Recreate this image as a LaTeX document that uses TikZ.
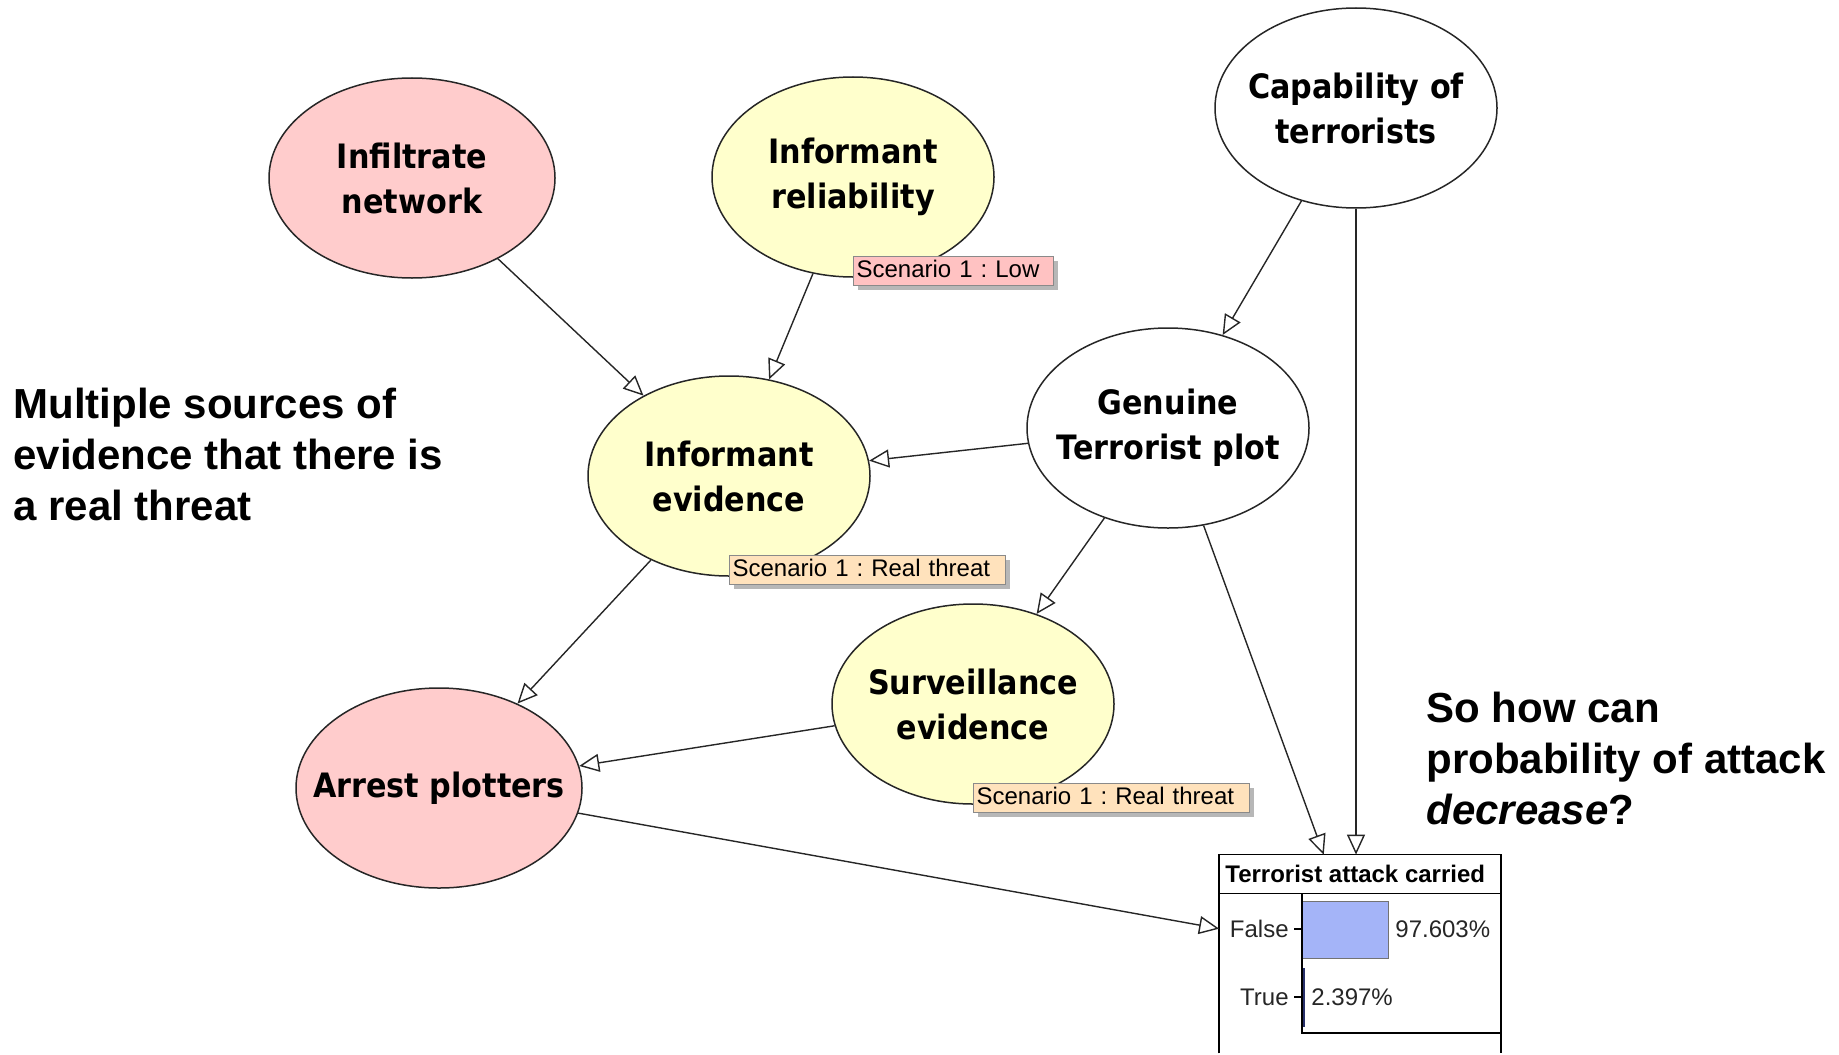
\documentclass[tikz,border=0pt]{standalone}
\usepackage{fontspec}
\setmainfont{Liberation Sans}
\newfontfamily\nodefont[FakeStretch=0.9]{DejaVu Sans}
\usetikzlibrary{arrows.meta,shapes.geometric,calc,shadows}
\frenchspacing

\definecolor{nodepink}{HTML}{FFCCCC}
\definecolor{nodeyellow}{HTML}{FFFFCC}
\definecolor{tagpink}{HTML}{FFC2C2}
\definecolor{tagpeach}{HTML}{FFE2BC}
\definecolor{tagedge}{HTML}{8A8A8A}
\definecolor{barblue}{HTML}{A4B4F8}
\definecolor{barnavy}{HTML}{28306A}

\begin{document}
\begin{tikzpicture}[x=0.5pt,y=-0.5pt,
  bnode/.style={ellipse, draw=black!85, line width=0.75pt,
    minimum width=141pt, minimum height=100pt, inner sep=0pt},
  btext/.style={inner sep=0pt, align=center,
    font=\nodefont\bfseries\fontsize{16.8}{22.5}\selectfont},
  link/.style={draw=black!85, line width=0.7pt,
    -{Triangle[length=10pt,width=9pt,fill=white,line width=0.7pt]}},
  tag/.style={anchor=north west, draw=tagedge, line width=0.6pt,
    inner xsep=1.5pt, inner ysep=0pt, minimum height=14.5pt,
    text height=9pt, text depth=2.5pt, align=left,
    font=\fontsize{12}{14}\selectfont,
    drop shadow={shadow xshift=2pt, shadow yshift=-2pt, fill=black!40, opacity=0.7}},
  note/.style={anchor=north west, align=left, inner sep=0pt,
    font=\bfseries\fontsize{21}{25.5}\selectfont},
  montext/.style={inner sep=0pt, font=\fontsize{12}{14}\selectfont, text=black!85},
]
\useasboundingbox (0,0) rectangle (1839,1054);

% Belief network nodes (fixed-size ellipses, captions set as centred labels)
\node[bnode, fill=nodepink, minimum width=143pt,
  label={[btext]center:{Infiltrate\\network}}] (infil) at (412,178) {};
\node[bnode, fill=nodeyellow,
  label={[btext]center:{Informant\\reliability}}] (rel) at (853,177) {};
\node[bnode, fill=white,
  label={[btext]center:{Capability of\\terrorists}}] (cap) at (1356,108) {};
\node[bnode, fill=nodeyellow,
  label={[btext]center:{Informant\\evidence}}] (infev) at (729,476) {};
\node[bnode, fill=white,
  label={[btext]center:{Genuine\\Terrorist plot}}] (plot) at (1168,428) {};
\node[bnode, fill=nodeyellow,
  label={[btext]center:{Surveillance\\evidence}}] (surv) at (973,704) {};
\node[bnode, fill=nodepink, minimum width=143pt,
  label={[btext]center:{Arrest plotters}}] (arrest) at (439,788) {};

% Monitor window of the outcome node
\node[rectangle, minimum width=140.5pt, minimum height=99pt, inner sep=0pt] (mon) at (1360,954) {};
\draw[line width=0.75pt] (mon.south west) -- (mon.north west) -- (mon.north east) -- (mon.south east);
\draw[line width=0.75pt] ([yshift=-19.5pt]mon.north west) -- ([yshift=-19.5pt]mon.north east);
\node[anchor=west, inner sep=0pt, font=\bfseries\fontsize{12}{14}\selectfont] (monTitle) at (1225,874) {Terrorist attack carried};
\draw[draw=black!55, fill=barblue, line width=0.5pt] (1302,901) rectangle (1388,958);
\fill[barnavy] (1302,968) rectangle (1305,1027);
\draw[line width=0.75pt] (1302,894) -- (1302,1033) -- (1500,1033);
\draw[line width=0.6pt] (1294,929) -- (1302,929);
\draw[line width=0.6pt] (1294,997) -- (1302,997);
\node[montext, anchor=east] (lblFalse) at (1289,929) {False};
\node[montext, anchor=east] (lblTrue) at (1289,997) {True};
\node[montext, anchor=west] (valFalse) at (1395,929) {97.603\%};
\node[montext, anchor=west] (valTrue) at (1311,997) {2.397\%};

% Links
\draw[link] (infil) -- (infev);
\draw[link] (rel) -- (infev);
\draw[link] (cap) -- (plot);
\draw[link] (cap) -- (cap |- mon.north);
\draw[link] (plot) -- (infev);
\draw[link] (plot) -- (surv);
\draw[link] (plot) -- (mon);
\draw[link] (infev) -- (arrest);
\draw[link] (surv) -- (arrest);
\draw[link] (arrest) -- (mon);

% Scenario evidence tags
\node[tag, fill=tagpink, text width=97pt] (relTag) at ($(rel.center)+(0,79)$) {Scenario 1 : Low};
\node[tag, fill=tagpeach, text width=135pt] (infevTag) at ($(infev.center)+(0,79)$) {Scenario 1 : Real threat};
\node[tag, fill=tagpeach, text width=135pt] (survTag) at ($(surv.center)+(0,79)$) {Scenario 1 : Real threat};

% Side remarks
\node[note] (leftNote) at (13,388) {Multiple sources of\\evidence that there is\\a real threat};
\node[note] (rightNote) at (1426,692) {So how can\\probability of attack\\\textit{decrease}?};
\end{tikzpicture}
\end{document}
